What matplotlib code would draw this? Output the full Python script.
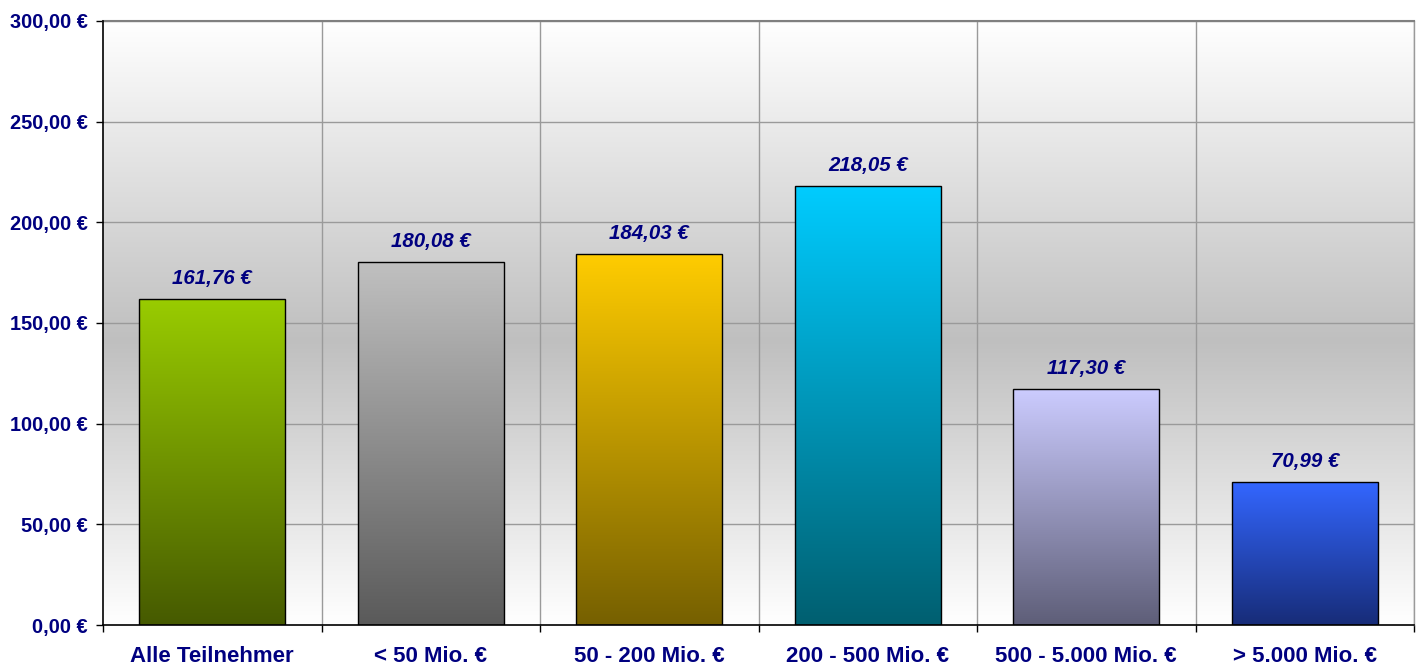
import numpy as np
import matplotlib
matplotlib.use("Agg")
import matplotlib.pyplot as plt
from matplotlib.colors import LinearSegmentedColormap

categories = ["Alle Teilnehmer", "< 50 Mio. €", "50 - 200 Mio. €", "200 - 500 Mio. €",
              "500 - 5.000 Mio. €", "> 5.000 Mio. €"]
values = [161.76, 180.08, 184.03, 218.05, 117.30, 70.99]
value_labels = ["161,76 €", "180,08 €", "184,03 €", "218,05 €", "117,30 €", "70,99 €"]
top_colors = ["#99cc00", "#c0c0c0", "#ffcc00", "#00ccff", "#ccccff", "#3366ff"]
bottom_colors = ["#465a00", "#5a5a5a", "#766000", "#005f70", "#5e5e78", "#172c78"]
y_ticks = [0, 50, 100, 150, 200, 250, 300]
y_tick_labels = ["0,00 €", "50,00 €", "100,00 €", "150,00 €", "200,00 €", "250,00 €", "300,00 €"]

plt.rcParams['font.family'] = ['Liberation Sans', 'DejaVu Sans']
navy = "#000080"

W, H = 1420, 669
fig = plt.figure(figsize=(W / 100, H / 100), dpi=100)
fig.patch.set_facecolor("white")
ax = fig.add_axes([103 / W, (H - 625) / H, (1414 - 103) / W, (625 - 21) / H])

n = len(categories)
ax.set_xlim(-0.5, n - 0.5)
ax.set_ylim(0, 300)

# background gradient (white - grey - white)
t = np.linspace(0, 1, 300)
center = 0.47
g = np.where(t < center, t / center, (1 - t) / (1 - center))
bg_vals = 1.0 - g * (1.0 - 0.75)
bg = np.repeat(bg_vals[:, None], 2, axis=1)
ax.imshow(np.dstack([bg, bg, bg]), extent=[-0.5, n - 0.5, 0, 300], origin='lower',
          aspect='auto', zorder=0, interpolation='bilinear')

# grid
for yv in y_ticks[1:]:
    ax.axhline(yv, color="#9a9a9a", lw=1.0, zorder=1)
for xv in np.arange(0.5, n, 1.0):
    ax.axvline(xv, color="#9a9a9a", lw=1.0, zorder=1)

bars = ax.bar(range(n), values, width=0.67, facecolor='none', edgecolor='black',
              linewidth=1.0, zorder=3)

for i, (b, v) in enumerate(zip(bars, values)):
    cmap = LinearSegmentedColormap.from_list(f"c{i}", [bottom_colors[i], top_colors[i]])
    grad = np.linspace(0, 1, 256)[:, None]
    x0 = b.get_x()
    im = ax.imshow(grad, cmap=cmap, extent=[x0, x0 + b.get_width(), 0, v], origin='lower',
                   aspect='auto', zorder=2, interpolation='bilinear')
    im.set_clip_path(b)
    ax.annotate(value_labels[i], (i, v), xytext=(0, 8), textcoords='offset points',
                ha='center', va='bottom', fontsize=14.8, fontweight='bold',
                fontstyle='italic', color=navy, zorder=4)

ax.set_xlim(-0.5, n - 0.5)
ax.set_ylim(0, 300)

ax.set_yticks(y_ticks)
ax.set_yticklabels(y_tick_labels, fontsize=14.4, fontweight='bold', color=navy)
ax.set_xticks(np.arange(-0.5, n, 1.0))
ax.set_xticklabels([])
ax.set_xticks(range(n), minor=True)
ax.set_xticklabels(categories, minor=True, fontsize=16, fontweight='bold', color=navy)
ax.tick_params(axis='x', which='minor', length=0, pad=15)
ax.tick_params(axis='x', which='major', length=5, width=1.0, color='black', direction='out')
ax.tick_params(axis='y', length=5, width=1.0, color='black', direction='out', pad=6)

for s in ['left', 'bottom']:
    ax.spines[s].set_color('black')
    ax.spines[s].set_linewidth(1.2)
    ax.spines[s].set_zorder(5)
ax.spines['top'].set_color('#808080')
ax.spines['top'].set_linewidth(1.5)
ax.spines['right'].set_color('#9a9a9a')
ax.spines['right'].set_linewidth(1.0)

fig.savefig("out.png", dpi=100)
